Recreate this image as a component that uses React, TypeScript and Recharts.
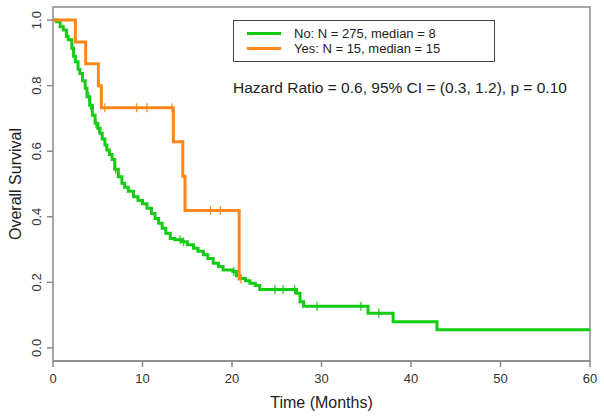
import { LineChart, Line, XAxis, YAxis, ReferenceArea } from 'recharts';

// Kaplan-Meier steps: [months, survival]
const noSteps: [number, number][] = [
  [0, 1.0], [0.4, 0.995], [0.8, 0.98], [1.15, 0.97], [1.5, 0.95], [1.7, 0.94], [2.1, 0.914],
  [2.3, 0.89], [2.5, 0.873], [2.8, 0.85], [3.0, 0.837], [3.3, 0.815], [3.6, 0.792], [3.8, 0.766],
  [4.1, 0.74], [4.4, 0.71], [4.7, 0.685], [5.0, 0.67], [5.25, 0.655], [5.5, 0.637], [5.8, 0.619],
  [6.0, 0.604], [6.3, 0.59], [6.6, 0.575], [6.9, 0.545], [7.3, 0.522], [7.7, 0.502], [8.0, 0.49],
  [8.4, 0.478], [9.0, 0.461], [9.5, 0.45], [10.0, 0.44], [10.5, 0.426], [11.0, 0.41], [11.4, 0.395],
  [11.8, 0.38], [12.2, 0.365], [12.6, 0.35], [13.1, 0.334], [13.6, 0.33], [14.4, 0.324], [15.0, 0.315],
  [15.7, 0.304], [16.2, 0.295], [16.8, 0.284], [17.3, 0.273], [17.9, 0.258], [18.5, 0.248], [19.0, 0.238],
  [20.1, 0.233], [20.5, 0.22], [20.9, 0.212], [21.5, 0.205], [22.0, 0.197], [22.6, 0.19], [23.1, 0.178],
  [27.2, 0.167], [27.6, 0.141], [28.0, 0.127], [35.2, 0.106], [38.0, 0.08], [42.9, 0.055], [60, 0.055],
];
const noCensored = [2.2, 4.0, 4.2, 4.8, 5.1, 7.0, 14.2, 14.6, 20.2, 24.8, 25.7, 27.0, 29.5, 34.4, 36.4];

const yesSteps: [number, number][] = [
  [0, 1.0], [2.5, 0.933], [3.65, 0.867], [5.07, 0.8], [5.4, 0.733], [13.45, 0.629],
  [14.5, 0.524], [14.75, 0.419], [20.8, 0.21], [21.0, 0.21],
];
const yesCensored = [5.8, 9.35, 10.5, 13.3, 17.6, 18.7, 21.0];

const xTicks = [0, 10, 20, 30, 40, 50, 60];
const yTicks = [0, 0.2, 0.4, 0.6, 0.8, 1.0];

const GREEN = '#14cc14';
const ORANGE = '#ff8618';
const AXIS = '#8a8a8a';
const FONT = '"Liberation Sans", Arial, sans-serif';

function buildSeries(steps: [number, number][], censored: number[]) {
  const pts = steps.map(([t, s]) => ({ t, s, c: false }));
  censored.forEach((t) => {
    let s = steps[0][1];
    steps.forEach(([st, sv]) => { if (st <= t) s = sv; });
    pts.push({ t, s, c: true });
  });
  return pts.sort((a, b) => a.t - b.t || (a.c ? 1 : -1));
}

const noData = buildSeries(noSteps, noCensored);
const yesData = buildSeries(yesSteps, yesCensored);

const censorDot = (color: string) => (props: any) => {
  const { cx, cy, payload, index } = props;
  if (!payload?.c) return <g key={index} />;
  return <line key={index} x1={cx} x2={cx} y1={cy - 4.5} y2={cy + 4.5} stroke={color} strokeWidth={1.2} />;
};

const YTick = ({ y, payload }: any) => (
  <text x={41} y={y} transform={`rotate(-90 41 ${y})`} textAnchor="middle" fontSize={13} fill="#333" fontFamily={FONT}>
    {payload.value.toFixed(1)}
  </text>
);

const XTick = ({ x, payload }: any) => (
  <text x={x} y={383} textAnchor="middle" fontSize={13} fill="#333" fontFamily={FONT}>
    {payload.value}
  </text>
);

export default function App() {
  return (
    <div style={{ position: 'absolute', left: 0, top: 0, width: 604, height: 417, background: '#fff', fontFamily: FONT }}>
      <LineChart width={604} height={417} margin={{ top: 7, right: 14, bottom: 16, left: 8 }}>
        <XAxis
          type="number"
          dataKey="t"
          domain={[0, 60]}
          ticks={xTicks}
          allowDataOverflow
          height={40}
          tick={<XTick />}
          tickSize={6}
          tickLine={{ stroke: AXIS, strokeWidth: 1.5 }}
          axisLine={{ stroke: AXIS, strokeWidth: 1.5 }}
          label={{ value: 'Time (Months)', position: 'insideBottom', offset: -7, fontSize: 16, fill: '#222', fontFamily: FONT }}
        />
        <YAxis
          type="number"
          domain={[-0.04, 1.04]}
          ticks={yTicks}
          allowDataOverflow
          width={45}
          tick={<YTick />}
          tickSize={6}
          tickLine={{ stroke: AXIS, strokeWidth: 1.5 }}
          axisLine={false}
          label={{ value: 'Overall Survival', angle: -90, position: 'insideLeft', offset: 0, dx: 7, fontSize: 16, fill: '#222', fontFamily: FONT, style: { textAnchor: 'middle' } }}
        />
        <ReferenceArea x1={0} x2={60} y1={-0.04} y2={1.04} fill="none" stroke={AXIS} strokeWidth={1.5} fillOpacity={0} />
        <Line
          data={noData}
          dataKey="s"
          type="stepAfter"
          stroke={GREEN}
          strokeWidth={3}
          dot={censorDot(GREEN)}
          activeDot={false}
          isAnimationActive={false}
        />
        <Line
          data={yesData}
          dataKey="s"
          type="stepAfter"
          stroke={ORANGE}
          strokeWidth={3}
          dot={censorDot(ORANGE)}
          activeDot={false}
          isAnimationActive={false}
        />
      </LineChart>

      <div style={{ position: 'absolute', left: 233, top: 20, width: 262, height: 42, border: '1px solid #444', boxSizing: 'border-box', background: '#fff' }}>
        {[
          { color: GREEN, text: 'No: N = 275, median = 8' },
          { color: ORANGE, text: 'Yes: N = 15, median = 15' },
        ].map((item, i) => (
          <div key={i} style={{ position: 'absolute', left: 13, top: 5 + i * 14.5, height: 15, display: 'flex', alignItems: 'center' }}>
            <span style={{ display: 'inline-block', width: 34, height: 3, background: item.color }} />
            <span style={{ marginLeft: 13, fontSize: 13, color: '#222', lineHeight: '15px', whiteSpace: 'nowrap' }}>{item.text}</span>
          </div>
        ))}
      </div>
      <div style={{ position: 'absolute', left: 233, top: 78, fontSize: 15.5, color: '#222', whiteSpace: 'nowrap', lineHeight: '20px' }}>
        Hazard Ratio = 0.6, 95% CI = (0.3, 1.2), p = 0.10
      </div>
    </div>
  );
}
